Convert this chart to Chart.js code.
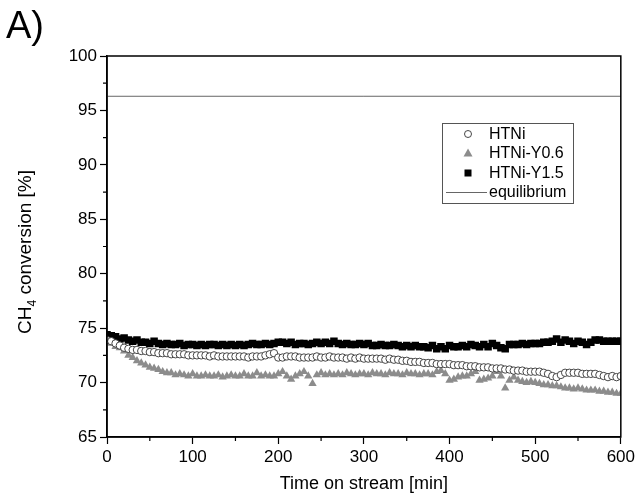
<!DOCTYPE html>
<html>
<head>
<meta charset="utf-8">
<script src="https://cdn.jsdelivr.net/npm/chart.js@4.4.1/dist/chart.umd.min.js"></script>
<style>
  html, body { margin: 0; padding: 0; background: #fff; }
  #wrap { width: 638px; height: 497px; position: relative; }
</style>
</head>
<body>
<div id="wrap"><canvas id="c" width="638" height="497"></canvas></div>
<script>
// time on stream [min], one reading every 5 min
const times = [
  0, 5, 10, 15, 20, 25, 30, 35, 40, 45, 50, 55, 60, 65, 70, 75, 80, 85, 90, 95,
  100, 105, 110, 115, 120, 125, 130, 135, 140, 145, 150, 155, 160, 165, 170, 175, 180, 185, 190, 195,
  200, 205, 210, 215, 220, 225, 230, 235, 240, 245, 250, 255, 260, 265, 270, 275, 280, 285, 290, 295,
  300, 305, 310, 315, 320, 325, 330, 335, 340, 345, 350, 355, 360, 365, 370, 375, 380, 385, 390, 395,
  400, 405, 410, 415, 420, 425, 430, 435, 440, 445, 450, 455, 460, 465, 470, 475, 480, 485, 490, 495,
  500, 505, 510, 515, 520, 525, 530, 535, 540, 545, 550, 555, 560, 565, 570, 575, 580, 585, 590, 595, 600
];

const htni = [
  73.9, 73.8, 73.6, 73.4, 73.2, 73.1, 73.0, 73.0, 72.9, 72.9, 72.8, 72.8, 72.7, 72.7, 72.7, 72.6, 72.6, 72.6, 72.6, 72.5,
  72.5, 72.5, 72.5, 72.5, 72.4, 72.5, 72.4, 72.4, 72.4, 72.4, 72.4, 72.4, 72.4, 72.3, 72.4, 72.4, 72.4, 72.5, 72.6, 72.7,
  72.3, 72.3, 72.4, 72.4, 72.4, 72.3, 72.3, 72.3, 72.3, 72.4, 72.3, 72.3, 72.4, 72.3, 72.3, 72.3, 72.2, 72.3, 72.2, 72.3,
  72.2, 72.2, 72.2, 72.2, 72.2, 72.1, 72.2, 72.1, 72.1, 72.0, 72.0, 71.9, 71.9, 71.9, 71.8, 71.8, 71.8, 71.7, 71.7, 71.7,
  71.7, 71.6, 71.6, 71.6, 71.5, 71.5, 71.5, 71.4, 71.4, 71.4, 71.3, 71.3, 71.3, 71.2, 71.2, 71.1, 71.1, 71.1, 71.0, 71.0,
  71.0, 71.0, 70.9, 70.8, 70.6, 70.5, 70.7, 70.9, 70.9, 70.9, 70.9, 70.8, 70.8, 70.8, 70.8, 70.7, 70.6, 70.5, 70.6, 70.5, 70.6
];

const htniY06 = [
  73.9, 73.6, 73.3, 73.2, 72.9, 72.5, 72.3, 72.0, 71.8, 71.6, 71.4, 71.3, 71.2, 71.0, 70.9, 70.9, 70.7, 70.8, 70.7, 70.6,
  70.8, 70.6, 70.6, 70.7, 70.6, 70.6, 70.7, 70.5, 70.6, 70.7, 70.6, 70.6, 70.8, 70.6, 70.6, 70.9, 70.6, 70.7, 70.6, 70.6,
  70.8, 71.0, 70.6, 70.3, 70.6, 70.8, 71.0, 70.6, 69.9, 70.7, 70.9, 70.7, 70.8, 70.7, 70.8, 70.7, 70.9, 70.8, 70.7, 70.8,
  70.8, 70.7, 70.9, 70.8, 70.8, 70.7, 70.9, 70.8, 70.8, 70.7, 70.9, 70.8, 70.8, 70.7, 70.8, 70.8, 70.7, 71.0, 71.1, 70.8,
  70.2, 70.3, 70.5, 70.6, 70.6, 70.8, 71.0, 70.2, 70.3, 70.4, 70.6, 71.0, 70.6, 69.5, 70.2, 70.5, 70.2, 70.1, 70.0, 70.1,
  70.0, 69.9, 69.8, 69.8, 69.7, 69.7, 69.6, 69.5, 69.5, 69.4, 69.5, 69.4, 69.3, 69.3, 69.3, 69.2, 69.2, 69.1, 69.1, 69.0, 69.0
];

const htniY15 = [
  74.4, 74.3, 74.2, 74.0, 74.1, 73.9, 73.8, 73.9, 73.7, 73.7, 73.6, 73.8, 73.6, 73.5, 73.6, 73.5, 73.5, 73.6, 73.4, 73.5,
  73.5, 73.4, 73.5, 73.4, 73.5, 73.5, 73.4, 73.5, 73.4, 73.5, 73.4, 73.5, 73.4, 73.5, 73.6, 73.5, 73.5, 73.6, 73.5, 73.6,
  73.7, 73.7, 73.6, 73.7, 73.5, 73.6, 73.6, 73.5, 73.6, 73.7, 73.6, 73.7, 73.6, 73.8, 73.6, 73.5, 73.6, 73.5, 73.5, 73.6,
  73.5, 73.6, 73.4, 73.4, 73.5, 73.4, 73.4, 73.5, 73.4, 73.3, 73.4, 73.3, 73.4, 73.3, 73.3, 73.2, 73.4, 73.1, 73.3, 73.1,
  73.4, 73.3, 73.3, 73.4, 73.3, 73.5, 73.4, 73.3, 73.5, 73.3, 73.6, 73.4, 73.2, 73.1, 73.5, 73.5, 73.5, 73.6, 73.5, 73.6,
  73.6, 73.6, 73.7, 73.7, 73.8, 74.0, 73.7, 73.9, 73.8, 73.6, 73.8, 73.7, 73.5, 73.7, 73.9, 73.9, 73.8, 73.8, 73.8, 73.8, 73.8
];

const equilibrium = 96.3;
const xTicks = [0, 100, 200, 300, 400, 500, 600];
const yTicks = [65, 70, 75, 80, 85, 90, 95, 100];

const FONT = "'Liberation Sans', Arial, sans-serif";

function toPoints(vals) {
  return vals.map((v, i) => ({ x: times[i], y: v }));
}

// frame, minor ticks, axis titles, panel label and legend box
const decor = {
  id: 'decor',
  afterDraw(chart) {
    const ctx = chart.ctx;
    const a = chart.chartArea;
    const xs = chart.scales.x;
    const ys = chart.scales.y;
    ctx.save();
    ctx.strokeStyle = '#000';
    ctx.lineWidth = 1.5;
    ctx.strokeRect(a.left, a.top, a.right - a.left, a.bottom - a.top);

    // minor ticks
    ctx.lineWidth = 1.2;
    ctx.beginPath();
    for (let i = 0; i < xTicks.length - 1; i++) {
      const px = xs.getPixelForValue((xTicks[i] + xTicks[i + 1]) / 2);
      ctx.moveTo(px, a.bottom);
      ctx.lineTo(px, a.bottom + 4);
    }
    for (let i = 0; i < yTicks.length - 1; i++) {
      const py = ys.getPixelForValue((yTicks[i] + yTicks[i + 1]) / 2);
      ctx.moveTo(a.left, py);
      ctx.lineTo(a.left - 4, py);
    }
    ctx.stroke();

    ctx.fillStyle = '#000';
    // x title
    ctx.font = '18px ' + FONT;
    ctx.textAlign = 'center';
    ctx.textBaseline = 'middle';
    ctx.fillText('Time on stream [min]', (a.left + a.right) / 2, 484);

    // y title with subscript
    ctx.save();
    ctx.translate(26, 252);
    ctx.rotate(-Math.PI / 2);
    ctx.textAlign = 'left';
    ctx.textBaseline = 'middle';
    const p1 = 'CH', p2 = '4', p3 = ' conversion [%]';
    ctx.font = '19px ' + FONT;
    const w1 = ctx.measureText(p1).width;
    const w3 = ctx.measureText(p3).width;
    ctx.font = '12px ' + FONT;
    const w2 = ctx.measureText(p2).width;
    let x0 = -(w1 + w2 + w3) / 2;
    ctx.font = '19px ' + FONT;
    ctx.fillText(p1, x0, 0);
    ctx.font = '12px ' + FONT;
    ctx.fillText(p2, x0 + w1, 7);
    ctx.font = '19px ' + FONT;
    ctx.fillText(p3, x0 + w1 + w2, 0);
    ctx.restore();

    // panel label
    ctx.font = '38px ' + FONT;
    ctx.textAlign = 'left';
    ctx.textBaseline = 'alphabetic';
    ctx.fillText('A)', 6, 38);

    // legend
    const lx = 442, ly = 123, lw = 131, lh = 80;
    ctx.lineWidth = 1;
    ctx.strokeStyle = '#555';
    ctx.strokeRect(lx + 0.5, ly + 0.5, lw, lh);
    const rows = [134, 153, 173, 192];
    ctx.font = '16px ' + FONT;
    ctx.textBaseline = 'middle';
    ctx.fillStyle = '#000';
    const labels = ['HTNi', 'HTNi-Y0.6', 'HTNi-Y1.5', 'equilibrium'];
    labels.forEach((t, i) => ctx.fillText(t, 489, rows[i] + 1));
    const mx = 468;
    ctx.beginPath();
    ctx.arc(mx, rows[0], 3.5, 0, Math.PI * 2);
    ctx.fillStyle = '#fff';
    ctx.fill();
    ctx.strokeStyle = '#333';
    ctx.lineWidth = 0.9;
    ctx.stroke();
    ctx.beginPath();
    ctx.moveTo(mx, rows[1] - 4.5);
    ctx.lineTo(mx + 4.5, rows[1] + 3.5);
    ctx.lineTo(mx - 4.5, rows[1] + 3.5);
    ctx.closePath();
    ctx.fillStyle = '#8c8c8c';
    ctx.fill();
    ctx.fillStyle = '#000';
    ctx.fillRect(mx - 3.5, rows[2] - 3.5, 7, 7);
    ctx.strokeStyle = '#666';
    ctx.lineWidth = 1;
    ctx.beginPath();
    ctx.moveTo(446, rows[3] + 0.5);
    ctx.lineTo(487, rows[3] + 0.5);
    ctx.stroke();
    ctx.restore();
  }
};

new Chart(document.getElementById('c'), {
  type: 'scatter',
  data: {
    datasets: [
      {
        label: 'HTNi',
        data: toPoints(htni),
        pointStyle: 'circle',
        pointRadius: 3.7,
        pointBackgroundColor: '#fff',
        pointBorderColor: '#333',
        pointBorderWidth: 0.9,
        order: 1
      },
      {
        label: 'HTNi-Y0.6',
        data: toPoints(htniY06),
        pointStyle: 'triangle',
        pointRadius: 4.8,
        pointBackgroundColor: '#8c8c8c',
        pointBorderColor: '#8c8c8c',
        pointBorderWidth: 0,
        order: 2
      },
      {
        label: 'HTNi-Y1.5',
        data: toPoints(htniY15),
        pointStyle: 'rect',
        pointRadius: 5.3,
        pointBackgroundColor: '#000',
        pointBorderColor: '#000',
        pointBorderWidth: 0,
        order: 3
      },
      {
        label: 'equilibrium',
        data: [{ x: times[0], y: equilibrium }, { x: times[times.length - 1], y: equilibrium }],
        showLine: true,
        borderColor: '#666',
        borderWidth: 1,
        pointRadius: 0,
        order: 4
      }
    ]
  },
  options: {
    responsive: false,
    animation: false,
    layout: { padding: { left: 0, top: 56, right: 15, bottom: 0 } },
    plugins: {
      legend: { display: false },
      tooltip: { enabled: false }
    },
    scales: {
      x: {
        type: 'linear',
        min: 0,
        max: 600,
        afterBuildTicks: s => { s.ticks = xTicks.map(v => ({ value: v })); },
        afterFit: s => { s.height = 60; },
        border: { display: true, color: '#000', width: 1.5 },
        grid: { drawOnChartArea: false, drawTicks: true, tickLength: 7, tickWidth: 1.2, tickColor: '#000' },
        ticks: { color: '#000', font: { size: 17, family: FONT }, padding: 3, maxRotation: 0 }
      },
      y: {
        min: 65,
        max: 100,
        afterBuildTicks: s => { s.ticks = yTicks.map(v => ({ value: v })); },
        afterFit: s => { s.width = 107; },
        border: { display: true, color: '#000', width: 1.5 },
        grid: { drawOnChartArea: false, drawTicks: true, tickLength: 7, tickWidth: 1.2, tickColor: '#000' },
        ticks: { color: '#000', font: { size: 17, family: FONT }, padding: 3 }
      }
    }
  },
  plugins: [decor]
});
</script>
</body>
</html>
